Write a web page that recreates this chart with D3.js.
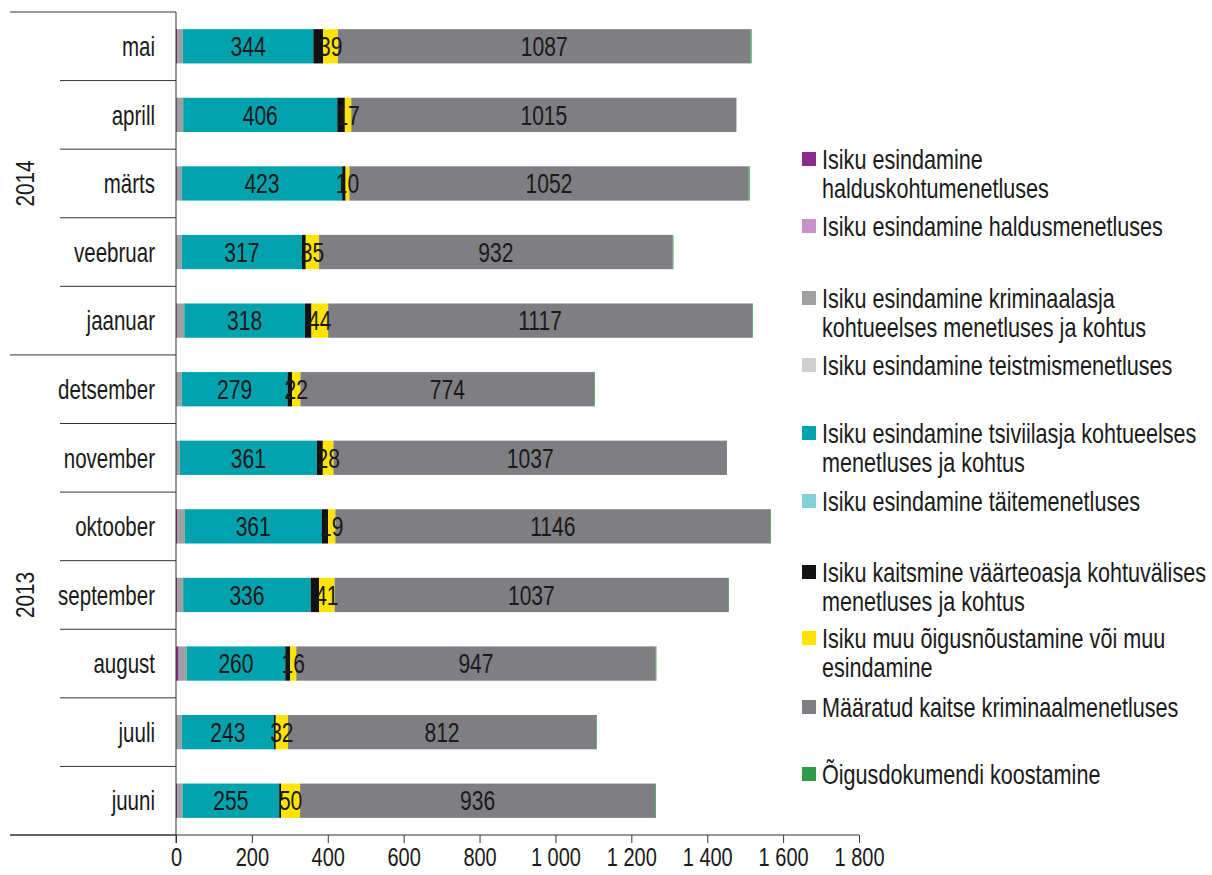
<!DOCTYPE html>
<html>
<head>
<meta charset="utf-8">
<script src="https://cdn.jsdelivr.net/npm/d3@7"></script>
<style>
  body { margin: 0; background: #fff; }
  svg text { font-family: "Liberation Sans Narrow", "Arial Narrow", "Liberation Sans", Arial, sans-serif; fill: #1a1a1a; }
</style>
</head>
<body>
<div class="chart"></div>
<script>
// months from bottom (juuni 2013) to top (mai 2014)
var months = ["juuni", "juuli", "august", "september", "oktoober", "november", "detsember",
              "jaanuar", "veebruar", "märts", "aprill", "mai"];
var years = ["2013", "2013", "2013", "2013", "2013", "2013", "2013",
             "2014", "2014", "2014", "2014", "2014"];

// series, same order as months
var haldusKohus   = [3, 0, 7, 3, 4, 0, 0, 2, 0, 2, 2, 3];
var haldusMen     = [0, 0, 0, 0, 0, 0, 0, 0, 0, 0, 0, 0];
var krimEeln      = [14, 15, 21, 16, 19, 10, 15, 20, 15, 13, 17, 15];
var teistmis      = [0, 0, 0, 0, 0, 0, 0, 0, 0, 0, 0, 0];
var tsiviil       = [255, 243, 260, 336, 361, 361, 279, 318, 317, 423, 406, 344];
var taite         = [0, 0, 0, 0, 0, 0, 0, 0, 0, 0, 0, 0];
var vaarteo       = [5, 5, 13, 22, 17, 16, 12, 17, 10, 9, 20, 26];
var muu           = [50, 32, 16, 41, 19, 28, 22, 44, 35, 10, 17, 39];
var maaratud      = [936, 812, 947, 1037, 1146, 1037, 774, 1117, 932, 1052, 1015, 1087];
var oigusdok      = [2, 2, 2, 2, 2, 0, 2, 2, 2, 3, 0, 3];

var seriesNames = [
    ["Isiku esindamine", "halduskohtumenetluses"],
    ["Isiku esindamine haldusmenetluses"],
    ["Isiku esindamine kriminaalasja", "kohtueelses menetluses ja kohtus"],
    ["Isiku esindamine teistmismenetluses"],
    ["Isiku esindamine tsiviilasja kohtueelses", "menetluses ja kohtus"],
    ["Isiku esindamine täitemenetluses"],
    ["Isiku kaitsmine väärteoasja kohtuvälises", "menetluses ja kohtus"],
    ["Isiku muu õigusnõustamine või muu", "esindamine"],
    ["Määratud kaitse kriminaalmenetluses"],
    ["Õigusdokumendi koostamine"]
];
var seriesValues = [haldusKohus, haldusMen, krimEeln, teistmis, tsiviil, taite, vaarteo, muu, maaratud, oigusdok];
var labelled = [4, 7, 8]; // series that show value labels

var xTicks = [0, 200, 400, 600, 800, 1000, 1200, 1400, 1600, 1800];

var colors = ["#8c2a8d", "#c992c6", "#a0a0a2", "#cfcfcf", "#00a2ad", "#80d0d6",
              "#111111", "#ffe400", "#7f7e83", "#2f9a48"];

var W = 1212, H = 875;
var mLeft = 176, mRight = 859, mTop = 12, mBottom = 835;

var svg = d3.select(".chart").append("svg")
    .attr("width", W)
    .attr("height", H);

// narrow text: group at (x, y), text squeezed horizontally (no narrow font installed)
function narrow(parent, x, y, str, anchor, size, sq) {
    var g = parent.append("g")
        .attr("transform", "translate(" + x + "," + y + ") scale(" + sq + ",1)");
    g.append("text")
        .attr("dy", "0.36em")
        .attr("text-anchor", anchor)
        .style("font-size", size + "px")
        .text(str);
    return g;
}

var keys = seriesValues.map(function (d, i) { return "s" + i; });
var table = months.map(function (m, j) {
    var row = { month: m, year: years[j] };
    seriesValues.forEach(function (s, i) { row["s" + i] = s[j]; });
    return row;
});

var x = d3.scaleLinear().domain([0, 1800]).range([mLeft, mRight]);
var y = d3.scaleBand()
    .domain(months.slice().reverse())
    .range([mTop, mBottom])
    .paddingInner(0.5)
    .paddingOuter(0.25);

var stacked = d3.stack().keys(keys)(table);

// bars
var layers = svg.append("g")
    .selectAll("g")
    .data(stacked)
    .enter().append("g")
    .attr("fill", function (d, i) { return colors[i]; });

layers.selectAll("rect")
    .data(function (d) { return d; })
    .enter().append("rect")
    .attr("x", function (d) { return x(d[0]); })
    .attr("y", function (d) { return y(d.data.month); })
    .attr("width", function (d) { return Math.max(0, x(d[1]) - x(d[0])); })
    .attr("height", y.bandwidth());

// value labels
var valueG = svg.append("g");
stacked.forEach(function (layer, i) {
    if (labelled.indexOf(i) < 0) return;
    layer.forEach(function (d) {
        narrow(valueG, x((d[0] + d[1]) / 2), y(d.data.month) + y.bandwidth() / 2,
            d.data["s" + i], "middle", 27, 0.78);
    });
});

// bottom axis
var xAxis = svg.append("g")
    .attr("transform", "translate(0," + mBottom + ")")
    .call(d3.axisBottom(x).tickValues(xTicks).tickSize(8).tickSizeOuter(0)
        .tickFormat(function (v) { return d3.format(",")(v).replace(/,/g, " "); }));
xAxis.select(".domain").remove();
xAxis.selectAll(".tick line").attr("stroke", "#333");
xAxis.selectAll(".tick text")
    .attr("y", 13)
    .attr("transform", "scale(0.8,1)")
    .style("font-size", "25px")
    .style("font-family", null);

// axis lines
svg.append("line")
    .attr("x1", 10).attr("x2", mRight)
    .attr("y1", mBottom).attr("y2", mBottom)
    .attr("stroke", "#333");
svg.append("line")
    .attr("x1", mLeft).attr("x2", mLeft)
    .attr("y1", mTop).attr("y2", mBottom + 8)
    .attr("stroke", "#333");

// category separators (year breaks go further left)
var step = y.step();
d3.range(months.length + 1).forEach(function (k) {
    var yy = mTop + k * step;
    var j = months.length - k; // index of month just below this line
    var yearBreak = k === 0 || k === months.length || years[j] !== years[j - 1];
    svg.append("line")
        .attr("x1", yearBreak ? 10 : 60).attr("x2", mLeft)
        .attr("y1", yy).attr("y2", yy)
        .attr("stroke", "#333");
});

// month labels
var monthG = svg.append("g");
months.forEach(function (m) {
    narrow(monthG, 155, y(m) + y.bandwidth() / 2, m, "end", 27, 0.76);
});

// year labels
var yearList = Array.from(new Set(years));
yearList.forEach(function (yr) {
    var ys = months.filter(function (m, j) { return years[j] === yr; })
        .map(function (m) { return y(m); });
    var cy = (d3.min(ys) + d3.max(ys) + y.bandwidth()) / 2;
    svg.append("g")
        .attr("transform", "translate(25," + cy + ") rotate(-90) scale(0.8,1)")
        .append("text")
        .attr("dy", "0.36em")
        .attr("text-anchor", "middle")
        .style("font-size", "26px")
        .text(yr);
});

// legend
var legendTop = [159, 226, 298, 365, 433, 501, 572, 638, 707, 774];
var lineH = 29;
var legend = svg.append("g");
seriesNames.forEach(function (lines, i) {
    legend.append("rect")
        .attr("x", 802).attr("y", legendTop[i] - 7)
        .attr("width", 14).attr("height", 14)
        .attr("fill", colors[i]);
    lines.forEach(function (t, k) {
        narrow(legend, 822, legendTop[i] + k * lineH, t, "start", 27, 0.8);
    });
});
</script>
</body>
</html>
